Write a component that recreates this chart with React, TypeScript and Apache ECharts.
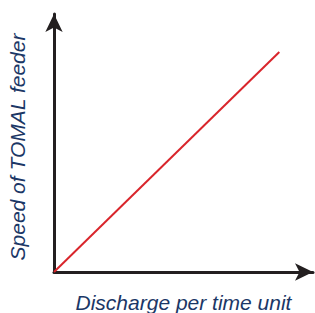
import React, { useEffect, useRef } from "react";
import * as echarts from "echarts";

const xName = "Discharge per time unit";
const yName = "Speed of TOMAL feeder";
const lineX = [0, 87];
const lineY = [0, 85.3];

export default function App() {
  const ref = useRef<HTMLDivElement>(null);
  useEffect(() => {
    if (!ref.current) return;
    const chart = echarts.init(ref.current, null, { renderer: "svg" });
    const nameStyle = {
      color: "#1b3766",
      fontStyle: "italic" as const,
      fontFamily: "Liberation Sans, Arial, sans-serif",
      fontSize: 21,
    };
    const axisCommon = {
      type: "value" as const,
      min: 0,
      max: 100,
      axisTick: { show: false },
      axisLabel: { show: false },
      splitLine: { show: false },
      nameLocation: "middle" as const,
      axisLine: {
        show: true,
        symbol: ["none", "arrow"],
        symbolSize: [13, 18],
        lineStyle: { color: "#231f20", width: 3 },
      },
    };
    chart.setOption({
      animation: false,
      grid: { left: 54, right: 2, top: 14, bottom: 41, containLabel: false, outerBoundsMode: "none" },
      xAxis: { ...axisCommon, name: xName, nameGap: 20, nameTextStyle: nameStyle },
      yAxis: {
        ...axisCommon,
        name: yName,
        nameGap: 26,
        nameTextStyle: { ...nameStyle, padding: [0, 8, 0, 0] },
      },
      series: [
        {
          type: "line",
          data: lineX.map((x, i) => [x, lineY[i]]),
          symbol: "none",
          lineStyle: { color: "#d9252b", width: 2 },
        },
      ],
    });
    return () => chart.dispose();
  }, []);
  return <div ref={ref} style={{ width: 315, height: 313, position: "absolute", left: 0, top: 0 }} />;
}
